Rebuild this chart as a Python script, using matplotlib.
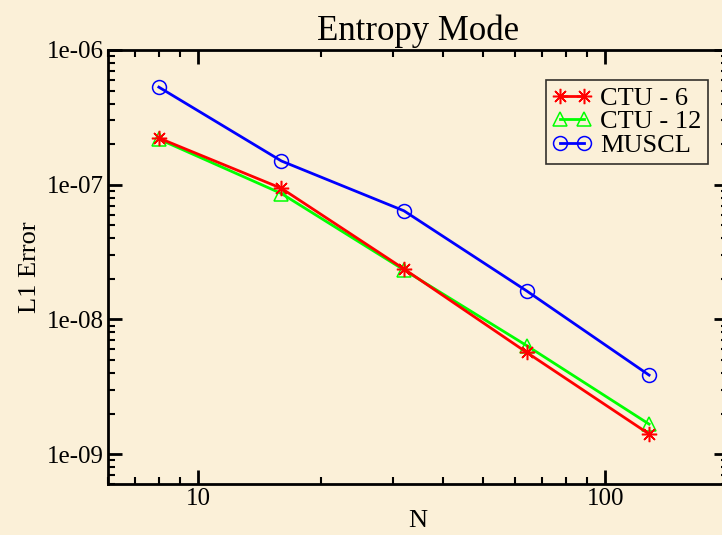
import matplotlib
matplotlib.use("Agg")
import matplotlib.pyplot as plt
from matplotlib.ticker import LogLocator, NullFormatter, FixedLocator

plt.rcParams['font.family'] = ['Liberation Serif', 'DejaVu Serif']

# data
N = [8, 16, 32, 64, 128]
ctu6 = [2.22e-7, 9.4e-8, 2.37e-8, 5.7e-9, 1.41e-9]
ctu12 = [2.18e-7, 8.6e-8, 2.33e-8, 6.4e-9, 1.67e-9]
muscl = [5.3e-7, 1.5e-7, 6.4e-8, 1.63e-8, 3.86e-9]

bg = '#FBF0D8'

fig = plt.figure(figsize=(7.22, 5.35), dpi=100, facecolor=bg)
ax = fig.add_axes([108 / 722, 1 - 484 / 535, 620 / 722, 434 / 535])
ax.set_facecolor(bg)

ax.plot(N, ctu6, color='#FF0000', lw=2, marker=(8, 2, 0), ms=11, mew=1.1,
        label='CTU - 6', zorder=3)
ax.plot(N, ctu12, color='#00FF00', lw=2, marker='^', ms=10, mew=1.1,
        mfc='none', label='CTU - 12', zorder=2)
ax.plot(N, muscl, color='#0000FF', lw=2, marker='o', ms=10, mew=1.1,
        mfc='none', label='MUSCL', zorder=2)

ax.set_xscale('log')
ax.set_yscale('log')
ax.set_xlim(6, 200)
ax.set_ylim(6e-10, 1e-6)

ax.xaxis.set_major_locator(FixedLocator([10, 100]))
ax.xaxis.set_minor_locator(LogLocator(base=10, subs=range(2, 10)))
ax.xaxis.set_minor_formatter(NullFormatter())
ax.set_xticklabels(['10', '100'])

yt = [1e-9, 1e-8, 1e-7, 1e-6]
ax.yaxis.set_major_locator(FixedLocator(yt))
ax.yaxis.set_minor_locator(LogLocator(base=10, subs=range(2, 10)))
ax.yaxis.set_minor_formatter(NullFormatter())
ax.set_yticklabels(['1e-09', '1e-08', '1e-07', '1e-06'])

for s in ax.spines.values():
    s.set_linewidth(2)
ax.tick_params(which='both', direction='in', top=True, right=True,
               labelsize=18, width=2, pad=3)
ax.tick_params(which='major', length=10)
ax.tick_params(which='minor', length=5, width=1.5)

ax.set_title('Entropy Mode', fontsize=25, pad=7)
ax.set_xlabel('N', fontsize=19, labelpad=0)
ax.set_ylabel('L1 Error', fontsize=19, labelpad=4)

leg = ax.legend(loc='upper right', bbox_to_anchor=(0.9675, 0.931), fontsize=19,
                frameon=True, fancybox=False, numpoints=2, handlelength=1.5,
                handletextpad=0.3, borderpad=0.25, labelspacing=0.0,
                borderaxespad=0)
leg.get_frame().set_edgecolor('black')
leg.get_frame().set_linewidth(1.2)
leg.get_frame().set_facecolor(bg)

fig.savefig('out.png', dpi=100, facecolor=bg)
